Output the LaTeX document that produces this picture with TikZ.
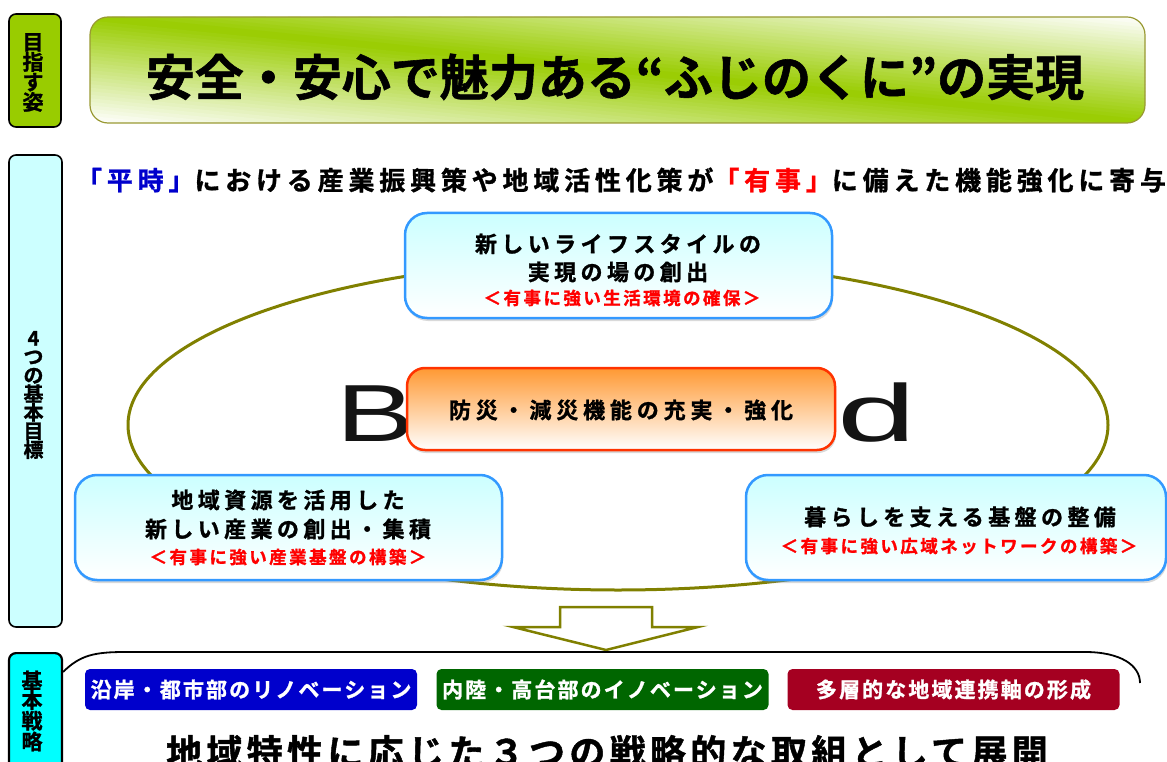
\documentclass[tikz,border=0pt]{standalone}
\usepackage{fontspec}
\usetikzlibrary{shadows}
\newfontfamily\jpb{Noto Sans CJK JP Bold}[FakeBold=1.2]
\newfontfamily\latin{Liberation Sans}
\newcommand\jpf[2]{\jpb\fontsize{#1}{#2}\selectfont}
\newcommand\lsp[1]{\addfontfeature{LetterSpace=#1}}
\definecolor{cLeaf}{RGB}{153,204,0}
\definecolor{cOliveLine}{RGB}{153,153,51}
\definecolor{cOlive}{RGB}{128,128,0}
\definecolor{cSky}{RGB}{51,153,255}
\definecolor{cIce}{RGB}{204,255,255}
\definecolor{cOrange}{RGB}{255,153,51}
\definecolor{cFire}{RGB}{255,51,0}
\definecolor{cBlueBar}{RGB}{0,0,204}
\definecolor{cGreenBar}{RGB}{0,102,0}
\definecolor{cRedBar}{RGB}{165,0,33}
\definecolor{cBlueTxt}{RGB}{0,0,204}
\definecolor{cRedTxt}{RGB}{255,0,0}
\definecolor{cAqua}{RGB}{0,255,255}
\definecolor{cPale}{RGB}{204,255,255}
\begin{document}
\begin{tikzpicture}[x=1pt,y=-1pt,
  side/.style={draw=black, line width=1.6pt, rounded corners=7pt, inner sep=0pt},
  goal/.style={draw=cSky, line width=2.5pt, rounded corners=22pt, top color=cIce, bottom color=white,
     minimum height=105pt, drop shadow={opacity=0.3, shadow xshift=1pt, shadow yshift=-3pt, fill=gray}},
  core/.style={draw=cFire, line width=2.5pt, rounded corners=18pt, top color=cOrange, bottom color=white,
     minimum width=428pt, minimum height=82pt, drop shadow={opacity=0.3, shadow xshift=1pt, shadow yshift=-3pt, fill=gray}},
  bar/.style={rounded corners=5pt, minimum width=332pt, minimum height=41pt, inner sep=0pt, text=white, font=\jpf{21}{24}\lsp{10}},
  mainline/.style={font=\jpf{22}{26}\lsp{20}, inner sep=0pt},
  subline/.style={font=\jpf{17.5}{20}\lsp{14}, text=cRedTxt, inner sep=0pt},
  vtext/.style={align=center, inner sep=0pt},
  bigletter/.style={font=\latin\fontsize{81}{81}\selectfont, inner sep=0pt, anchor=base, text=black!92},
]
\useasboundingbox (0,0) rectangle (1167,762);
% side labels
\node[side, fill=cLeaf, minimum width=52pt, minimum height=113pt] (lab1) at (35,70.5) {};
\node[vtext, font=\jpf{21}{20}] (lab1t) at (33,72.5) {目\\指\\す\\姿};
\node[side, fill=cPale, minimum width=53pt, minimum height=472pt] (lab2) at (35.5,391) {};
\node[vtext, font=\jpf{20}{18.6}] (lab2t) at (33.5,395) {4\\つ\\の\\基\\本\\目\\標};
\node[side, fill=cAqua, line width=2.2pt, minimum width=53pt, minimum height=130pt, anchor=north] (lab3) at (35.5,652) {};
\node[vtext, font=\jpf{21}{19.5}] (lab3t) at (32,711) {基\\本\\戦\\略};
% title box with diagonal gradient
\begin{scope}
  \clip[rounded corners=18pt] (90,17) rectangle (1145,123);
  \foreach \i in {0,...,59}{
    \pgfmathsetmacro{\ta}{\i/60}
    \pgfmathsetmacro{\tb}{(\i+1.3)/60}
    \pgfmathsetmacro{\mix}{max(0,100-200*abs((\i+0.5)/60-0.5))}
    \fill[cLeaf!\mix!white] (90,{-89+212*\ta}) -- (1145,{17+212*\ta}) -- (1145,{17+212*\tb}) -- (90,{-89+212*\tb}) -- cycle;
  }
\end{scope}
\node[draw=cOliveLine, line width=1.2pt, rounded corners=18pt, minimum width=1055pt, minimum height=106pt] (title) at (617.5,70) {};
\node[font=\jpf{49}{54}, inner sep=0pt] (titlet) at (615,77) {安全・安心で魅力ある“ふじのくに”の実現};
% subtitle
\node[font=\jpf{26}{30}\lsp{18.5}, inner sep=0pt] (sub) at (621,180)
  {\textcolor{cBlueTxt}{「平時」}における産業振興策や地域活性化策が\textcolor{cRedTxt}{「有事」}に備えた機能強化に寄与};
% ellipse
\draw[cOlive, line width=3pt] (618,425) ellipse [x radius=490pt, y radius=165pt];
% big letters behind
\node[bigletter, xscale=1.45] (bigB) at (376,441) {B};
\node[bigletter, xscale=1.75] (bigD) at (877,441) {d};
% goal boxes
\node[goal, minimum width=427pt] (top) at (618.5,265.5) {};
\node[mainline] (top1) at (618,244) {新しいライフスタイルの};
\node[mainline] (top2) at (618,272) {実現の場の創出};
\node[subline] (top3) at (622,298) {＜有事に強い生活環境の確保＞};
\node[core] (core) at (621,409) {};
\node[font=\jpf{22}{26}\lsp{22}, inner sep=0pt] (coret) at (621,410) {防災・減災機能の充実・強化};
\node[goal, minimum width=427pt] (left) at (288.5,527.5) {};
\node[mainline] (left1) at (288,500) {地域資源を活用した};
\node[mainline] (left2) at (288,529) {新しい産業の創出・集積};
\node[subline] (left3) at (288,557) {＜有事に強い産業基盤の構築＞};
\node[goal, minimum width=420pt] (right) at (956,527.5) {};
\node[mainline] (right1) at (960,517) {暮らしを支える基盤の整備};
\node[subline] (right2) at (959,546) {＜有事に強い広域ネットワークの構築＞};
% down arrow
\draw[cOlive, line width=2.5pt, fill=white, miter limit=10]
  (560,607) -- (652,607) -- (652,627) -- (698,627) -- (606,650) -- (513,627) -- (560,627) -- cycle;
% bracket line
\draw[black, line width=1.8pt] (lab3.north east) ++(0,20) .. controls (80,655) and (95,652) .. (125,652)
  -- (1085,652) .. controls (1120,652) and (1140,665) .. (1140,683);
% strategy bars
\node[bar, fill=cBlueBar] (bar1) at (251,689.5) {沿岸・都市部のリノベーション};
\node[bar, fill=cGreenBar] (bar2) at (602.5,689.5) {内陸・高台部のイノベーション};
\node[bar, fill=cRedBar] (bar3) at (953.5,689.5) {多層的な地域連携軸の形成};
\node[font=\jpf{36}{40}\lsp{12}, inner sep=0pt] (strat) at (607,752) {地域特性に応じた３つの戦略的な取組として展開};
\end{tikzpicture}
\end{document}
